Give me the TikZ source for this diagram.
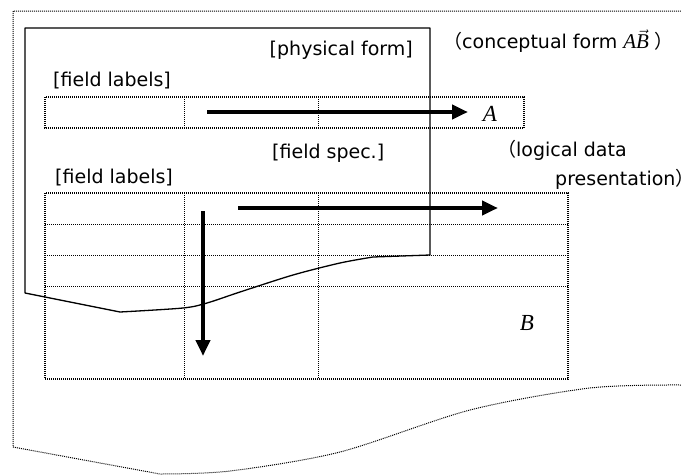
\documentclass[tikz,border=0pt]{standalone}
\usepackage{fontspec}
\setmainfont{DejaVu Sans}
\newfontfamily\cjk{Noto Sans CJK JP}
\newfontfamily\timesfont{Liberation Serif}
\usetikzlibrary{arrows.meta}
\newcommand{\varA}{{\timesfont\itshape A}}
\newcommand{\varB}{{\timesfont\itshape B}}
\newcommand{\lpar}{{\cjk （}}
\newcommand{\rpar}{{\cjk ）}}
\begin{document}
\begin{tikzpicture}[x=1pt,y=-1pt,
  dotline/.style={line width=1pt,dash pattern=on 1pt off 1pt},
  outline/.style={line width=1.3pt,line join=round},
  flow/.style={line width=4pt,-{Triangle[length=16pt,width=14pt]}},
  lbl/.style={inner sep=0pt,font=\fontsize{19pt}{22pt}\selectfont},
  var/.style={inner sep=0pt,font=\fontsize{23pt}{26pt}\selectfont}]
\useasboundingbox (0,0) rectangle (681,475);

% sheet of paper (dotted, torn lower edge)
\draw[dotline] (681,11) -- (13,11) -- (13,447) -- (160,474)
  -- plot[smooth] coordinates {(160,474) (230,471) (340,452) (470,410) (590,388) (681,385)};

% first table: one row of field labels
\draw[dotline,line width=1.3pt] (45,97) rectangle (524,128);
\draw[dotline] (184,97) -- (184,128) (318,97) -- (318,128);

% second table: field specification grid
\draw[dotline,line width=1.3pt] (45,193) rectangle (568,379);
\draw[dotline] (45,224) -- (568,224) (45,255) -- (568,255) (45,286) -- (568,286)
  (184,193) -- (184,379) (318,193) -- (318,379);

% physical form (solid sheet with wavy lower edge)
\draw[outline] (430,255) -- (373,257)
  -- plot[smooth] coordinates {(373,257) (340,263) (293,275) (240,292) (207,303) (183,308) (120,312)}
  -- (25,293) -- (25,28) -- (430,28) -- cycle;

% labels
\node[lbl,anchor=east] (phys) at (413,50) {[physical form]};
\node[lbl,anchor=west] (fl1) at (53,81) {[field labels]};
\node[lbl,anchor=west] (fspec) at (272,153) {[field spec.]};
\node[lbl,anchor=west] (fl2) at (55,178) {[field labels]};
\node[lbl,anchor=west] (concept) at (443,41) {\lpar conceptual form \fontsize{21pt}{24pt}\selectfont\varA$\vec{\hbox{\varB}}$\fontsize{19pt}{22pt}\selectfont{} \rpar};
\node[lbl,anchor=west] (logic1) at (497,150) {\lpar logical data};
\node[lbl,anchor=west] (logic2) at (555,179) {presentation\rpar};
\node[var] (A) at (490,114) {\varA};
\node[var] (B) at (527,323) {\varB};

% flow arrows
\coordinate (a1s) at (207,112);
\coordinate (a1e) at (468,112);
\coordinate (a2s) at (238,208);
\coordinate (a2e) at (498,208);
\coordinate (a3s) at (203,211);
\coordinate (a3e) at (203,356);
\draw[flow] (a1s) -- (a1e);
\draw[flow] (a2s) -- (a2e);
\draw[flow] (a3s) -- (a3e);
\end{tikzpicture}
\end{document}
